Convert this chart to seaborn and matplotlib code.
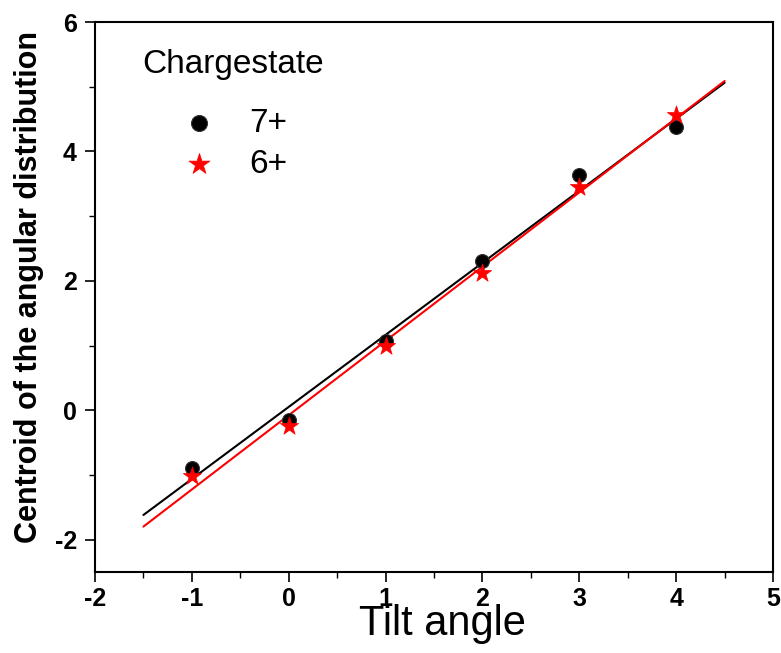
import numpy as np
import matplotlib
matplotlib.use("Agg")
import matplotlib.pyplot as plt
import seaborn as sns
import pandas as pd
from matplotlib.ticker import MultipleLocator

tilt = [-1, 0, 1, 2, 3, 4]
c7 = [-0.90, -0.15, 1.07, 2.30, 3.63, 4.38]
c6 = [-1.02, -0.25, 1.00, 2.12, 3.45, 4.57]
fit_range = [-1.5, 4.5]

sns.set_style("ticks")
plt.rcParams['font.family'] = ['Liberation Sans', 'DejaVu Sans']
plt.rcParams['axes.unicode_minus'] = False
plt.rcParams['text.color'] = 'black'
plt.rcParams['xtick.color'] = 'black'
plt.rcParams['ytick.color'] = 'black'
plt.rcParams['axes.labelcolor'] = 'black'
plt.rcParams['axes.edgecolor'] = 'black'

fig = plt.figure(figsize=(7.81, 6.53), dpi=100)
ax = fig.add_axes([0.1216, 0.124, 0.8682, 0.8423])

df7 = pd.DataFrame({"x": tilt, "y": c7})
df6 = pd.DataFrame({"x": tilt, "y": c6})

xs = np.array(fit_range)
for df, col in [(df7, "black"), (df6, "red")]:
    k, b = np.polyfit(df["x"], df["y"], 1)
    sns.lineplot(x=xs, y=k * xs + b, color=col, lw=1.5, ax=ax, legend=False)

sns.scatterplot(data=df7, x="x", y="y", marker="o", color="black", s=100,
                edgecolor="#333333", linewidth=0.8, ax=ax, label="7+", zorder=3)
sns.scatterplot(data=df6, x="x", y="y", marker="*", color="red", s=190,
                edgecolor="red", linewidth=0.5, ax=ax, label="6+", zorder=4)

ax.set_xlim(-2, 5)
ax.set_ylim(-2.5, 6)
ax.xaxis.set_major_locator(MultipleLocator(1))
ax.xaxis.set_minor_locator(MultipleLocator(0.5))
ax.yaxis.set_major_locator(MultipleLocator(2))
ax.yaxis.set_minor_locator(MultipleLocator(1))
ax.tick_params(which="major", direction="out", length=7, width=1.2, labelsize=18)
ax.tick_params(which="minor", direction="out", length=4, width=1.0)
ax.tick_params(axis="x", pad=4)
ax.tick_params(axis="y", pad=6)
for lab in ax.get_xticklabels() + ax.get_yticklabels():
    lab.set_fontweight("bold")
for sp in ax.spines.values():
    sp.set_linewidth(1.5)
    sp.set_visible(True)

ax.set_xlabel("Tilt angle", fontsize=30, va="center")
ax.xaxis.set_label_coords(0.513, -0.094)
ax.set_ylabel("Centroid of the angular distribution", fontsize=22, fontweight="bold", va="center")
ax.yaxis.set_label_coords(-0.097, 0.518)

ax.text(0.069, 0.922, "Chargestate", transform=ax.transAxes, fontsize=24,
        ha="left", va="center")

leg = ax.legend(loc="center left", frameon=False, fontsize=24,
                bbox_to_anchor=(0.1165, 0.779), borderaxespad=0, borderpad=0,
                handlelength=1.5, handletextpad=0.75, labelspacing=0.3,
                markerscale=1.15)

fig.savefig("out.png", dpi=100)
